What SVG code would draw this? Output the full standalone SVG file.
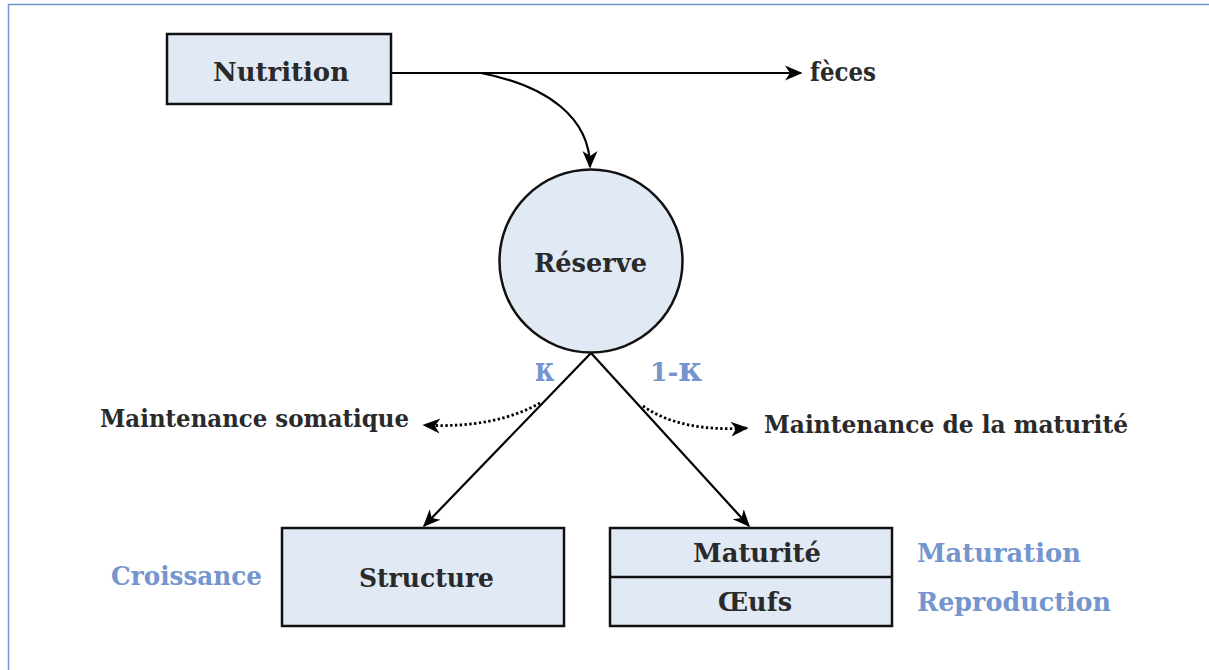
<svg xmlns="http://www.w3.org/2000/svg" width="1209" height="670" viewBox="0 0 1209 670">
<defs>
<style>
.bg{fill:#ffffff}
.frame{fill:none;stroke:#6E97D0;stroke-width:1.5}
.box{fill:#E1E9F5;stroke:#111;stroke-width:2.5}
.t{font-family:"DejaVu Serif","Liberation Serif",serif;font-weight:bold;fill:#2a2a2a;font-size:25.5px}
.m{font-size:23.5px}
.k{font-size:33px}
.b{fill:#7495CD}
.c{text-anchor:middle}
.edge{fill:none;stroke:#000;stroke-width:2.2}
.dot{fill:none;stroke:#000;stroke-width:2.8;stroke-dasharray:2.4 2.4}
</style>
<marker id="ah" viewBox="-19 -9 21 18" refX="0" refY="0" markerWidth="21" markerHeight="18" markerUnits="userSpaceOnUse" orient="auto">
<path d="M1.5,0 L-16,-7.5 L-11,0 L-16,7.5 Z" fill="#000" stroke="none"/>
</marker>
</defs>
<rect class="bg" x="0" y="0" width="1209" height="670"/>
<path class="frame" d="M8.5,670 L8.5,4.5 L1209,4.5"/>

<g id="connectors">
<path class="edge" d="M391,73 L801,73" marker-end="url(#ah)"/>
<path class="edge" d="M481,73 C548,86 590,118 590,167" marker-end="url(#ah)"/>
<path class="edge" d="M591,353 L424,526" marker-end="url(#ah)"/>
<path class="edge" d="M591,353 L749,526" marker-end="url(#ah)"/>
<path class="dot" d="M540,403 C512,419 472,428 424,425" marker-end="url(#ah)"/>
<path class="dot" d="M643,406 C668,424 705,431 747,428" marker-end="url(#ah)"/>
</g>

<g id="nutrition">
<rect class="box" x="167" y="34" width="224" height="70"/>
<text class="t c" x="281" y="81" textLength="136" lengthAdjust="spacingAndGlyphs">Nutrition</text>
</g>
<g id="feces">
<text class="t" x="810" y="81" textLength="66" lengthAdjust="spacingAndGlyphs">fèces</text>
</g>
<g id="reserve">
<circle class="box" cx="591" cy="261" r="91.5"/>
<text class="t c" x="590.5" y="272" textLength="113" lengthAdjust="spacingAndGlyphs">Réserve</text>
</g>
<g id="kappa-labels">
<text class="t b k" x="535" y="381" textLength="20" lengthAdjust="spacingAndGlyphs">κ</text>
<text class="t b" x="650" y="381"><tspan>1-</tspan><tspan class="k">κ</tspan></text>
</g>
<g id="maint-soma">
<text class="t m" x="100" y="427" textLength="309" lengthAdjust="spacingAndGlyphs">Maintenance somatique</text>
</g>
<g id="maint-mat">
<text class="t m" x="764" y="433" textLength="364" lengthAdjust="spacingAndGlyphs">Maintenance de la maturité</text>
</g>
<g id="structure">
<rect class="box" x="282" y="528" width="282" height="98"/>
<text class="t c" x="426.5" y="587" textLength="135" lengthAdjust="spacingAndGlyphs">Structure</text>
</g>
<g id="croissance">
<text class="t b" x="111" y="585" textLength="151" lengthAdjust="spacingAndGlyphs">Croissance</text>
</g>
<g id="maturite-oeufs">
<rect class="box" x="610" y="528" width="282" height="98"/>
<line x1="610" y1="577" x2="892" y2="577" stroke="#111" stroke-width="2.5"/>
<text class="t c" x="757" y="562" textLength="128" lengthAdjust="spacingAndGlyphs">Maturité</text>
<text class="t c" x="755" y="611" textLength="74" lengthAdjust="spacingAndGlyphs">Œufs</text>
</g>
<g id="maturation">
<text class="t b" x="917" y="562" textLength="164" lengthAdjust="spacingAndGlyphs">Maturation</text>
</g>
<g id="reproduction">
<text class="t b" x="917" y="611" textLength="194" lengthAdjust="spacingAndGlyphs">Reproduction</text>
</g>
</svg>
